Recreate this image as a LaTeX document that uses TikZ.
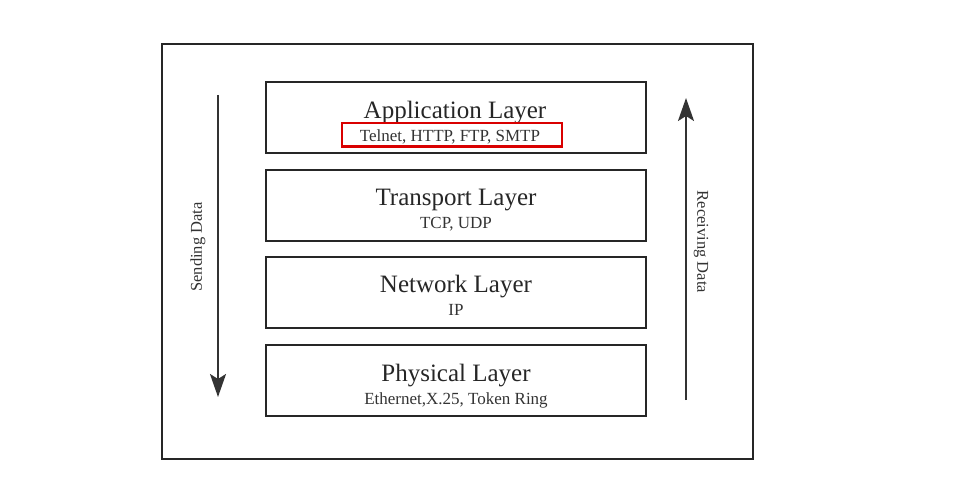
\documentclass[tikz,border=0pt]{standalone}
\usepackage{fontspec}
\setmainfont{Liberation Serif}
\usetikzlibrary{arrows.meta,positioning}

\begin{document}
\begin{tikzpicture}[x=1pt,y=-1pt,
		layerbox/.style={draw=black!85,line width=1.8pt,minimum width=380pt,minimum height=71pt},
		title/.style={font=\fontsize{25}{28}\selectfont,text=black!85,anchor=base},
		proto/.style={font=\fontsize{17}{19}\selectfont,text=black!80,anchor=base},
		flow/.style={draw=black!80,line width=2pt,-{Stealth[length=23pt,width=16pt,inset=5pt]}},
		sidelabel/.style={font=\fontsize{16.5}{18}\selectfont,text=black!80}]
				\tikzstyle{every node}+=[inner sep=0pt]
				\useasboundingbox (0,0) rectangle (959,489);
				\draw [black!85,line width=1.8pt] (161.7,44) rectangle (753.3,459.3);
				% the four layers
				\node [layerbox] (app) at (456,117.2) {};
				\node [layerbox] (trans) at (456,205.3) {};
				\node [layerbox] (net) at (456,292.3) {};
				\node [layerbox] (phys) at (456,380.3) {};
				\node [title] (appname) at (455,119) {Application Layer};
				\node [proto] (appproto) at (450,142) {Telnet, HTTP, FTP, SMTP};
				\node [draw=red!85!black,line width=2.4pt,minimum width=220pt,minimum height=23.4pt] (mark) at (452,135) {};
				\node [title] (transname) at (456,206) {Transport Layer};
				\node [proto] (transproto) at (456,229) {TCP, UDP};
				\node [title] (netname) at (456,293) {Network Layer};
				\node [proto] (netproto) at (456,316) {IP};
				\node [title] (physname) at (456,381) {Physical Layer};
				\node [proto] (physproto) at (456,404) {Ethernet,X.25, Token Ring};
				% sending / receiving
				\coordinate (sendtop) at (218,95);
				\coordinate (sendend) at (218,397);
				\coordinate (recvbot) at (686,400);
				\coordinate (recvend) at (686,98);
				\draw [flow] (sendtop) -- (sendend);
				\draw [flow] (recvbot) -- (recvend);
				\node [sidelabel,rotate=90] (send) at (198,247) {Sending Data};
				\node [sidelabel,rotate=-90] (recv) at (701,242) {Receiving Data};
			\end{tikzpicture}
\end{document}
